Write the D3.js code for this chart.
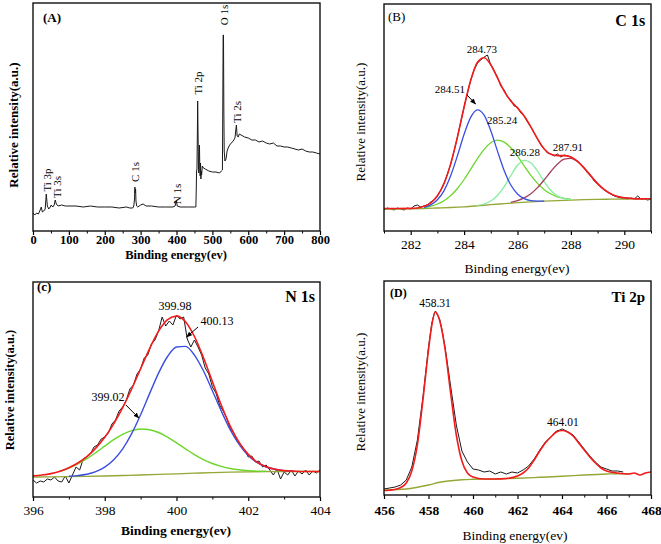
<!DOCTYPE html>
<html><head><meta charset="utf-8">
<script src="https://cdn.jsdelivr.net/npm/d3@7"></script>
<style>body{margin:0;background:#fff}svg{display:block}</style>
</head><body>
<svg id="chart" width="661" height="544"></svg>
<script>
// ---------- DATA ----------
// Panel A: survey spectrum [binding energy eV, intensity a.u.]
const surveyA = [[0,18],[5,16],[10,18],[15,17],[20,21],[23,24],[26,19],[30,20],[34,22],[37,37],[40,25],[44,22],[48,24],[51,26],[55,24],[59,26],[62,31],[65,27],[70,25],[80,26],[90,25],[100,25],[120,25],[140,24],[160,25],[180,24],[200,24],[220,24],[240,23],[260,24],[270,23],[278,23],[281,25],[283,32],[284,44],[285,38],[286,42],[287,30],[289,25],[292,24],[300,26],[307,27],[315,25],[330,25],[350,24],[370,24],[390,24],[396,25],[398,28],[400,30],[402,25],[410,24],[430,24],[450,24],[454,24],[455,40],[456,60],[457,62],[458,90],[459,130],[460,100],[461,70],[462,58],[463,75],[464,86],[465,62],[466,55],[467,68],[468,52],[469,60],[470,56],[472,65],[475,63],[480,62],[490,60],[500,59],[510,59],[520,58],[525,60],[528,61],[529,120],[530,196],[531,196],[532,120],[533,80],[535,70],[538,72],[541,80],[544,83],[548,86],[553,88],[558,90],[563,93],[565,100],[567,106],[569,95],[572,94],[575,97],[580,96],[590,94],[600,93],[610,91],[620,91],[630,89],[640,90],[650,88],[660,87],[670,88],[680,85],[690,85],[700,84],[710,84],[720,83],[730,82],[740,81],[750,82],[760,80],[770,79],[780,79],[790,78],[800,77]];
const peakLabelsA = [["Ti 3p",39,51],["Ti 3s",67,44],["C 1s",284,59],["N 1s",401,37],["Ti 2p",460,148],["O 1s",532,216],["Ti 2s",569,119]];
const ticksA = [0,100,200,300,400,500,600,700,800];
const minorA = [50,150,250,350,450,550,650,750];

// Panel B: C 1s
const rawB = [[281,21],[281.125,23],[281.25,22],[281.375,21],[281.5,23],[281.625,22],[281.75,21],[281.875,23],[282,22],[282.125,25],[282.25,26],[282.375,24],[282.5,25],[282.625,26],[282.75,29],[282.875,31],[283,35],[283.125,41],[283.25,48],[283.375,57],[283.5,67],[283.625,80],[283.75,94],[283.875,109],[284,124],[284.125,138],[284.25,151],[284.375,161],[284.5,168],[284.625,171],[284.75,174],[284.875,176],[285,166],[285.125,160],[285.25,154],[285.375,145],[285.5,141],[285.625,134],[285.75,131],[285.875,125],[286,124],[286.125,118],[286.25,115],[286.375,109],[286.5,104],[286.625,98],[286.75,92],[286.875,86],[287,82],[287.125,78],[287.25,77],[287.375,75],[287.5,77],[287.625,74],[287.75,76],[287.875,75],[288,74],[288.125,72],[288.25,70],[288.375,66],[288.5,63],[288.625,58],[288.75,55],[288.875,50],[289,47],[289.125,44],[289.25,41],[289.375,39],[289.5,37],[289.625,35],[289.75,34],[289.875,33],[290,33],[290.125,32],[290.25,33],[290.375,32],[290.5,35],[290.625,32],[290.75,32],[290.875,31],[291,32]];
const fitB = [[281,22.5],[281.5,22.5],[282,22.6],[282.25,23],[282.5,24.7],[282.75,28.2],[283,35.2],[283.25,47.5],[283.5,67.4],[283.75,93.9],[284,124],[284.25,151],[284.5,168.8],[284.75,173.2],[285,166.2],[285.25,153.1],[285.5,139.9],[285.75,130],[286,123],[286.25,115],[286.5,104.2],[286.75,92.2],[287,82.1],[287.25,76.8],[287.5,75.4],[287.75,75.4],[288,74],[288.25,69.6],[288.5,62.9],[288.75,55],[289,47.4],[289.25,41.3],[289.5,37.1],[289.75,34.5],[290,33.2],[290.25,32.5],[290.5,32.1],[290.75,32.2],[291,32.2]];
const peak28451 = [[282.5,23.7],[282.75,26.1],[283,31.2],[283.25,40.4],[283.5,55.4],[283.75,75.2],[284,96.7],[284.25,113.9],[284.5,121.2],[284.75,115.9],[285,100.3],[285.25,79.9],[285.5,60.6],[285.75,46],[286,37],[286.25,32.3],[286.5,30.4],[286.75,29.9],[287,29.8]];
const peak28524 = [[282.5,23.5],[282.75,24.8],[283,27],[283.25,30.3],[283.5,35.5],[283.75,42.5],[284,51.5],[284.25,61.8],[284.5,72.4],[284.75,81.7],[285,88.2],[285.25,90.8],[285.5,88.9],[285.75,83.2],[286,74.8],[286.25,65],[286.5,55.6],[286.75,47.6],[287,41.3],[287.25,37],[287.5,34.2],[287.75,32.6],[288,31.8]];
const peak28628 = [[284.5,25.6],[284.75,27],[285,30],[285.25,35.5],[285.5,44.3],[285.75,55.5],[286,65.7],[286.25,70.7],[286.5,68.2],[286.75,59.8],[287,49.3],[287.25,40.5],[287.5,35],[287.75,32.4],[288,31.4]];
const peak28791 = [[285.75,28.7],[286,30.4],[286.25,33.1],[286.5,37.3],[286.75,43.4],[287,51.1],[287.25,59.5],[287.5,67],[287.75,71.8],[288,72.6],[288.25,69.3],[288.5,62.9],[288.75,55],[289,47.4],[289.25,41.3],[289.5,37.1],[289.75,34.5],[290,33.2],[290.25,32.6],[290.5,32.1]];
const baseB = [[281,22],[281.5,22],[282,22.2],[282.5,22.5],[283,23],[283.5,23.5],[284,24.2],[284.5,25.2],[285,26.3],[285.5,27.3],[286,28.3],[286.5,29.1],[287,29.8],[287.5,30.4],[288,30.9],[288.5,31.3],[289,31.6],[289.5,31.8],[290,32],[290.5,32.1],[291,32.2]];
const ticksB = [282,284,286,288,290];
const minorB = [281,283,285,287,289,291];

// Panel C: N 1s
const rawC = [[396,17],[396.1,14],[396.2,16],[396.3,15],[396.4,18],[396.5,17],[396.6,20],[396.7,16],[396.8,15],[396.9,21],[397,14],[397.1,22],[397.2,30],[397.3,27],[397.4,38],[397.5,40],[397.6,43],[397.7,50],[397.8,52],[397.9,58],[398,60],[398.1,64],[398.2,73],[398.3,77],[398.4,86],[398.5,90],[398.6,97],[398.7,108],[398.8,112],[398.9,123],[399,128],[399.1,139],[399.2,142],[399.3,153],[399.4,157],[399.5,166],[399.6,180],[399.7,171],[399.8,176],[399.9,172],[400,182],[400.1,178],[400.2,180],[400.3,158],[400.4,150],[400.5,157],[400.6,150],[400.7,142],[400.8,129],[400.9,123],[401,110],[401.1,104],[401.2,92],[401.3,86],[401.4,79],[401.5,68],[401.6,64],[401.7,55],[401.8,52],[401.9,47],[402,40],[402.1,41],[402.2,35],[402.3,36],[402.4,30],[402.5,32],[402.6,27],[402.7,22],[402.8,28],[402.9,18],[403,25],[403.1,22],[403.2,27],[403.3,21],[403.4,26],[403.5,23],[403.6,27],[403.7,22],[403.8,26],[403.9,24],[404,27]];
const fitC = [[396,21.1],[396.25,22],[396.5,23.4],[396.75,25.7],[397,29.3],[397.25,34],[397.5,40.4],[397.75,48.9],[398,59.7],[398.25,73.2],[398.5,89.3],[398.75,108],[399,128.3],[399.25,148.4],[399.5,165.8],[399.75,177.4],[400,180.9],[400.25,175.3],[400.5,160.5],[400.75,139.5],[401,115.4],[401.25,91.7],[401.5,70.7],[401.75,54.4],[402,42.6],[402.25,34.9],[402.5,30.3],[402.75,27.7],[403,26.4],[403.25,25.9],[403.5,25.5],[403.75,25.5],[404,25.5]];
const peak40013 = [[397,20.7],[397.25,21.4],[397.5,22.7],[397.75,25.3],[398,29.8],[398.25,37.2],[398.5,48.2],[398.75,63.4],[399,82.3],[399.25,103.4],[399.5,123.9],[399.75,140.5],[400,150],[400.25,150.6],[400.5,141.9],[400.75,126.2],[401,106.3],[401.25,85.8],[401.5,67.1],[401.75,52.3],[402,41.4],[402.25,34.3],[402.5,30],[402.75,27.7],[403,26.4],[403.25,25.9]];
const peak39902 = [[396.75,25.6],[397,28.9],[397.25,33.1],[397.5,38.3],[397.75,44.4],[398,50.9],[398.25,57.3],[398.5,62.6],[398.75,66.4],[399,68],[399.25,67.3],[399.5,64.5],[399.75,59.8],[400,54.1],[400.25,48.2],[400.5,42.4],[400.75,37.4],[401,33.5],[401.25,30.6],[401.5,28.5],[401.75,27.2],[402,26.4],[402.25,25.9],[402.5,25.7]];
const baseC = [[396,20],[396.5,20.1],[397,20.3],[397.5,20.6],[398,21],[398.5,21.5],[399,22],[399.5,22.6],[400,23.2],[400.5,23.8],[401,24.4],[401.5,24.9],[402,25.2],[402.5,25.4],[403,25.5],[403.5,25.5],[404,25.5]];
const ticksC = [396,398,400,402,404];
const minorC = [397,399,401,403];

// Panel D: Ti 2p
const rawD = [[456,6],[456.25,7],[456.5,8],[456.75,10],[457,15],[457.25,28],[457.5,55],[457.75,98],[458,148],[458.15,172],[458.25,181],[458.31,184],[458.4,180],[458.5,176],[458.6,166],[458.75,147],[459,108],[459.25,70],[459.5,44],[459.75,33],[460,26],[460.25,25],[460.5,23],[460.75,24],[461,21],[461.25,23],[461.5,21],[461.75,23],[462,22],[462.25,25],[462.5,29],[462.75,36],[463,45],[463.25,53],[463.5,58],[463.75,64],[463.9,65],[464.01,66],[464.2,64],[464.5,60],[464.75,53],[465,46],[465.25,39],[465.5,33],[465.75,28],[466,26],[466.25,24],[466.5,24],[466.75,23]];
const fitD = [[456,4.5],[456.25,4.8],[456.5,5.5],[456.75,7.5],[457,12],[457.25,24],[457.5,50],[457.75,95],[458,145],[458.15,170],[458.31,183],[458.45,178],[458.6,165],[458.75,145],[459,101],[459.25,60],[459.5,34],[459.75,22],[460,18],[460.5,16],[461,16],[461.5,16.5],[462,19],[462.25,22],[462.5,27],[462.75,35],[463,44],[463.25,52],[463.5,58],[463.75,63],[464.01,64.5],[464.25,63],[464.5,59],[464.75,52],[465,45],[465.25,38],[465.5,32],[465.75,27],[466,24],[466.5,22],[467,21],[467.25,22],[467.5,20],[467.75,22],[468,23]];
const baseD = [[456,5],[457,6],[457.5,7.7],[458,10],[458.5,12.7],[459,14.3],[459.5,15.3],[460,15.7],[461,16],[462,16.7],[463,17.7],[464,18.7],[465,20],[466,21],[466.5,21.3],[467,21.3]];
const ticksD = [456,458,460,462,464,466,468];
const minorD = [457,459,461,463,465,467];

// ---------- DRAWING ----------
const FONT = '"Liberation Serif","Times New Roman",Times,serif';
const svg = d3.select('#chart');
const defs = svg.append('defs');
defs.append('marker').attr('id','arrow').attr('viewBox','0 0 10 10').attr('refX',9).attr('refY',5)
  .attr('markerWidth',6).attr('markerHeight',6).attr('orient','auto')
  .append('path').attr('d','M0,1 L10,5 L0,9 Z').attr('fill','#000');

const C = {black:'#1a1a1a', red:'#f21c1c', blue:'#3a4fe0', green:'#6cd62c', lgreen:'#86eda0', maroon:'#a3405c', olive:'#93a836'};

const panels = [
  {id:'A', box:[33,3,320,231], xDomain:[0,800], yMax:228, major:ticksA, minor:minorA, tickBold:true, tickPad:0, tickSize:12.5,
   series:[{data:surveyA, color:C.black, w:1, smooth:false}],
   title:{t:'(A)', e:28, i:209, size:13, bold:true, anchor:'start'},
   tag:null,
   xlab:{t:'Binding energy(ev)', x:176, y:255, bold:true, size:12.5}, ylab:{t:'Relative intensity(a.u.)', x:13, y:125, bold:true, size:13},
   notes:[], arrows:[], rot:peakLabelsA},
  {id:'B', box:[384,4,651,231], xDomain:[281,291], yMax:227, major:ticksB, minor:minorB, tickBold:false, tickPad:4, tickSize:13.5,
   series:[{data:rawB, color:C.black, w:1},{data:baseB, color:C.olive, w:1.3, smooth:true},
     {data:peak28524, color:C.green, w:1.3, smooth:true},{data:peak28628, color:C.lgreen, w:1.3, smooth:true},
     {data:peak28791, color:C.maroon, w:1.3, smooth:true},{data:peak28451, color:C.blue, w:1.3, smooth:true},
     {data:fitB, color:C.red, w:1.6, smooth:true}],
   title:{t:'(B)', e:281.15, i:210, size:13, bold:false, anchor:'start'},
   tag:{t:'C 1s', e:290.78, i:205, size:16},
   xlab:{t:'Binding energy(ev)', x:517, y:268, bold:false, size:13.5}, ylab:{t:'Relative intensity(a.u.)', x:360, y:122, bold:false, size:13},
   notes:[['284.73',284.67,178],['284.51',283.47,138],['285.24',285.42,107],['286.28',286.28,75],['287.91',287.89,80]],
   noteSize:11, arrows:[[[284.11,136],[284.43,127]]]},
  {id:'C', box:[33,282,320,497], xDomain:[396,404], yMax:215, major:ticksC, minor:minorC, tickBold:false, tickPad:4, tickSize:13.5,
   series:[{data:rawC, color:C.black, w:1},{data:baseC, color:C.olive, w:1.3, smooth:true},
     {data:peak39902, color:C.green, w:1.4, smooth:true},{data:peak40013, color:C.blue, w:1.4, smooth:true},
     {data:fitC, color:C.red, w:1.6, smooth:true}],
   title:{t:'(c)', e:396.11, i:206, size:13, bold:true, anchor:'start'},
   tag:{t:'N 1s', e:403.86, i:195, size:16},
   xlab:{t:'Binding energy(ev)', x:176, y:530, bold:true, size:13.5}, ylab:{t:'Relative intensity(a.u.)', x:10, y:390, bold:true, size:12.5},
   notes:[['399.98',399.96,187],['400.13',401.13,172],['399.02',398.09,96]], noteSize:12,
   arrows:[[[400.6,170],[400.28,160]],[[398.59,92],[398.95,79]]]},
  {id:'D', box:[384,281,651,495], xDomain:[456,468], yMax:214, major:ticksD, minor:minorD, tickBold:true, tickPad:6, tickSize:13.5,
   series:[{data:rawD, color:C.black, w:1},{data:baseD, color:C.olive, w:1.4, smooth:true},
     {data:fitD, color:C.red, w:1.6, smooth:true}],
   title:{t:'(D)', e:456.27, i:198, size:12, bold:true, anchor:'start'},
   tag:{t:'Ti 2p', e:467.73, i:193, size:15},
   xlab:{t:'Binding energy(ev)', x:515, y:535, bold:false, size:13.5}, ylab:{t:'Relative intensity(a.u.)', x:360, y:392, bold:false, size:13},
   notes:[['458.31',458.29,188],['464.01',464.04,69]], noteSize:11.5, arrows:[]}
];

panels.forEach(p => {
  const [l,t,r,b] = p.box;
  const x = d3.scaleLinear().domain(p.xDomain).range([l,r]);
  const y = d3.scaleLinear().domain([0,p.yMax]).range([b,t]);
  const g = svg.append('g');
  defs.append('clipPath').attr('id','clip'+p.id).append('rect')
    .attr('x',l).attr('y',t).attr('width',r-l).attr('height',b-t);
  const lin = d3.line().x(d=>x(d[0])).y(d=>y(d[1]));
  const smo = d3.line().x(d=>x(d[0])).y(d=>y(d[1])).curve(d3.curveMonotoneX);
  const plot = g.append('g').attr('clip-path',`url(#clip${p.id})`);
  p.series.forEach(s => plot.append('path').datum(s.data).attr('d', s.smooth ? smo : lin)
    .attr('fill','none').attr('stroke',s.color).attr('stroke-width',s.w).attr('stroke-linejoin','round'));

  // axes
  const ax = g.append('g').attr('transform',`translate(0,${b})`)
    .call(d3.axisBottom(x).tickValues(p.major).tickSize(4).tickPadding(p.tickPad).tickFormat(d3.format('d')));
  ax.select('.domain').remove();
  ax.selectAll('line').attr('stroke','#000').attr('stroke-width',1.2);
  ax.selectAll('text').attr('font-family',FONT).attr('font-size',p.tickSize).attr('fill','#000')
    .attr('font-weight', p.tickBold ? 'bold' : 'normal');
  const mx = g.append('g').attr('transform',`translate(0,${b})`)
    .call(d3.axisBottom(x).tickValues(p.minor).tickSize(2.5).tickFormat(''));
  mx.select('.domain').remove();
  mx.selectAll('line').attr('stroke','#000').attr('stroke-width',1);

  g.append('rect').attr('x',l).attr('y',t).attr('width',r-l).attr('height',b-t)
    .attr('fill','none').attr('stroke','#111').attr('stroke-width',1.4);

  const txt = (s, X, Y, o) => g.append('text').text(s).attr('x',X).attr('y',Y)
    .attr('font-family',FONT).attr('font-size',o.size||12).attr('font-weight',o.bold?'bold':'normal')
    .attr('text-anchor',o.anchor||'middle').attr('fill','#000');

  txt(p.title.t, x(p.title.e), y(p.title.i), p.title);
  if (p.tag) txt(p.tag.t, x(p.tag.e), y(p.tag.i), {size:p.tag.size, bold:true, anchor:'end'});
  txt(p.xlab.t, p.xlab.x, p.xlab.y, {size:p.xlab.size, bold:p.xlab.bold}).attr('dominant-baseline','central');
  txt(p.ylab.t, 0, 0, {size:p.ylab.size, bold:p.ylab.bold}).attr('dominant-baseline','central')
    .attr('transform',`translate(${p.ylab.x},${p.ylab.y}) rotate(-90)`);

  (p.notes||[]).forEach(n => txt(n[0], x(n[1]), y(n[2]), {size:p.noteSize}));
  (p.arrows||[]).forEach(a => g.append('line').attr('x1',x(a[0][0])).attr('y1',y(a[0][1]))
    .attr('x2',x(a[1][0])).attr('y2',y(a[1][1])).attr('stroke','#000').attr('stroke-width',1)
    .attr('marker-end','url(#arrow)'));
  (p.rot||[]).forEach(n => txt(n[0], 0, 0, {size:11}).attr('dominant-baseline','central')
    .attr('transform',`translate(${x(n[1])},${y(n[2])}) rotate(-90)`));
});
</script>
</body></html>
